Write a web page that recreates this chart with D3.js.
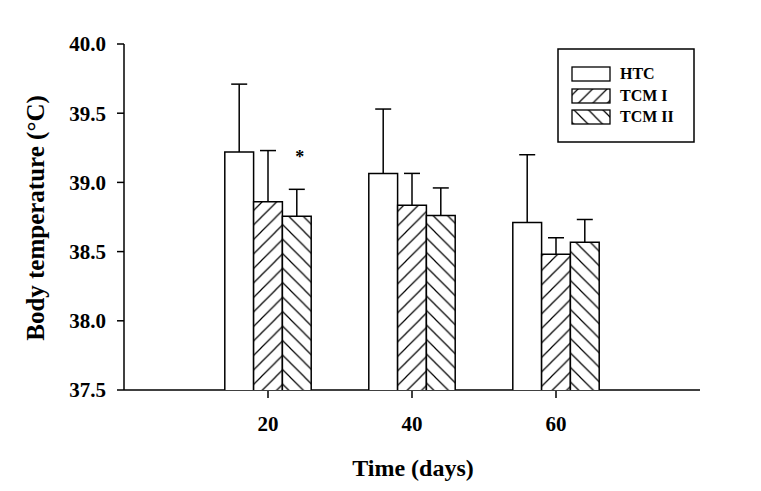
<!DOCTYPE html>
<html>
<head>
<meta charset="utf-8">
<script src="https://cdn.jsdelivr.net/npm/d3@7"></script>
<style>
  html, body { margin: 0; padding: 0; background: #fff; }
  svg { display: block; font-family: "Liberation Serif", "Times New Roman", serif; }
</style>
</head>
<body>
<svg id="chart" width="761" height="491"></svg>
<script>
// ---- data ----
const days = [20, 40, 60];
const seriesNames = ["HTC", "TCM I", "TCM II"];
const htcMean  = [39.22, 39.065, 38.71];
const htcSE    = [0.49, 0.465, 0.49];
const tcm1Mean = [38.86, 38.835, 38.48];
const tcm1SE   = [0.37, 0.23, 0.12];
const tcm2Mean = [38.755, 38.76, 38.567];
const tcm2SE   = [0.195, 0.20, 0.165];
const yTicks = [37.5, 38.0, 38.5, 39.0, 39.5, 40.0];
const xTicks = [20, 40, 60];
const significance = [{day: 20, series: 2, label: "*"}];

const means = [htcMean, tcm1Mean, tcm2Mean];
const ses = [htcSE, tcm1SE, tcm2SE];
const fills = ["url(#blank)", "url(#hatchF)", "url(#hatchB)"];

const svg = d3.select("#chart");
const x = d3.scaleLinear().domain([0, 80]).range([124, 700]);
const y = d3.scaleLinear().domain([37.5, 40]).range([390, 44]);
const barW = x(4) - x(0);

// patterns
const defs = svg.append("defs");
const sp = 14.5;
function makePattern(id, forward) {
  const p = defs.append("pattern").attr("id", id)
    .attr("patternUnits", "userSpaceOnUse")
    .attr("width", sp).attr("height", sp);
  p.append("rect").attr("width", sp).attr("height", sp).attr("fill", "#fff");
  if (forward) {
    p.append("path").attr("d", `M0,${sp} L${sp},0 M-2,2 L2,-2 M${sp-2},${sp+2} L${sp+2},${sp-2}`)
      .attr("stroke", "#000").attr("stroke-width", 1.2);
  } else {
    p.append("path").attr("d", `M0,0 L${sp},${sp} M-2,${sp-2} L2,${sp+2} M${sp-2},-2 L${sp+2},2`)
      .attr("stroke", "#000").attr("stroke-width", 1.2);
  }
}
defs.append("pattern").attr("id", "blank").attr("patternUnits", "userSpaceOnUse")
  .attr("width", 10).attr("height", 10)
  .append("rect").attr("width", 10).attr("height", 10).attr("fill", "#fff");
makePattern("hatchF", true);
makePattern("hatchB", false);

// x axis baseline (covered by bars)
svg.append("line").attr("x1", x(0)).attr("x2", x(80)).attr("y1", y(37.5)).attr("y2", y(37.5))
  .attr("stroke", "#000").attr("stroke-width", 1.5);

// y axis
svg.append("line").attr("x1", x(0)).attr("x2", x(0)).attr("y1", y(40)).attr("y2", y(37.5))
  .attr("stroke", "#000").attr("stroke-width", 1.5);
const yAxis = svg.append("g");
yTicks.forEach(t => {
  yAxis.append("line").attr("x1", x(0) - 7).attr("x2", x(0)).attr("y1", y(t)).attr("y2", y(t))
    .attr("stroke", "#000").attr("stroke-width", 1.5);
  yAxis.append("text").attr("x", 106).attr("y", y(t)).attr("dy", "0.35em")
    .attr("text-anchor", "end").attr("font-size", 21).attr("font-weight", "bold")
    .text(t.toFixed(1));
});

// bars
const gBars = svg.append("g");
days.forEach((d, i) => {
  seriesNames.forEach((s, k) => {
    const x0 = x(d) - 1.5 * barW + k * barW;
    const x1 = x0 + barW;
    const yt = y(means[k][i]);
    const yb = y(37.5);
    gBars.append("rect").attr("x", x0).attr("y", yt).attr("width", barW).attr("height", yb - yt)
      .attr("fill", fills[k]);
    gBars.append("path").attr("d", `M${x0},${yb} L${x0},${yt} L${x1},${yt} L${x1},${yb}`)
      .attr("fill", "none").attr("stroke", "#000").attr("stroke-width", 1.5);
    // error bar
    const cx = x0 + barW / 2;
    const ye = y(means[k][i] + ses[k][i]);
    gBars.append("line").attr("x1", cx).attr("x2", cx).attr("y1", yt).attr("y2", ye)
      .attr("stroke", "#000").attr("stroke-width", 1.5);
    gBars.append("line").attr("x1", cx - 8).attr("x2", cx + 8).attr("y1", ye).attr("y2", ye)
      .attr("stroke", "#000").attr("stroke-width", 1.5);
  });
});

// x ticks & labels
xTicks.forEach(t => {
  svg.append("line").attr("x1", x(t)).attr("x2", x(t)).attr("y1", y(37.5) + 1).attr("y2", y(37.5) + 8)
    .attr("stroke", "#000").attr("stroke-width", 1.5);
  svg.append("text").attr("x", x(t)).attr("y", 431).attr("text-anchor", "middle")
    .attr("font-size", 21).attr("font-weight", "bold").text(t);
});

// significance marker
significance.forEach(m => {
  const i = days.indexOf(m.day);
  const cx = x(m.day) - 1.5 * barW + m.series * barW + barW / 2;
  svg.append("text").attr("x", cx + 3).attr("y", y(means[m.series][i] + ses[m.series][i]) - 26)
    .attr("text-anchor", "middle").attr("font-size", 18).attr("font-weight", "bold").text(m.label);
});

// axis titles
svg.append("text").attr("x", 413).attr("y", 476).attr("text-anchor", "middle")
  .attr("font-size", 24).attr("font-weight", "bold").text("Time (days)");
svg.append("text").attr("transform", "translate(44,218) rotate(-90)").attr("text-anchor", "middle")
  .attr("font-size", 25).attr("font-weight", "bold").text("Body temperature (°C)");

// legend
const lg = svg.append("g");
lg.append("rect").attr("x", 558).attr("y", 49).attr("width", 136).attr("height", 93)
  .attr("fill", "#fff").attr("stroke", "#000").attr("stroke-width", 1.5);
const legY = [67, 89, 110];
seriesNames.forEach((s, k) => {
  lg.append("rect").attr("x", 572).attr("y", legY[k]).attr("width", 38).attr("height", 14)
    .attr("fill", fills[k]).attr("stroke", "#000").attr("stroke-width", 1.3);
  lg.append("text").attr("x", 620).attr("y", legY[k] + 12).attr("font-size", 16)
    .attr("font-weight", "bold").text(s);
});
</script>
</body>
</html>
